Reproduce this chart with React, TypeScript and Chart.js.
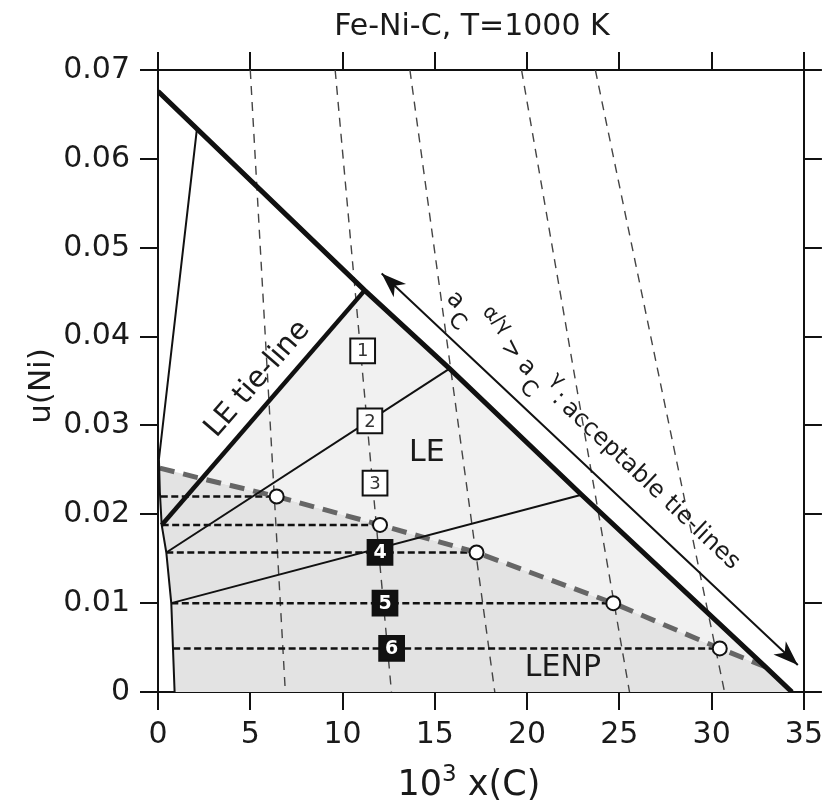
import React, { useEffect, useRef } from 'react';
import { Chart, registerables } from 'chart.js';

Chart.register(...registerables);

const FONT = "'DejaVu Sans', sans-serif";

// ---------- axis ticks ----------
const xTickValues = [0, 5, 10, 15, 20, 25, 30, 35];
const xTickLabels = ['0', '5', '10', '15', '20', '25', '30', '35'];
const yTickValues = [0, 0.01, 0.02, 0.03, 0.04, 0.05, 0.06, 0.07];
const yTickLabels = ['0', '0.01', '0.02', '0.03', '0.04', '0.05', '0.06', '0.07'];

// ---------- thick gamma boundary ----------
const gammaX = [0, 11.2, 15.8, 22.95, 32.9, 34.35];
const gammaY = [0.0676, 0.0452, 0.0364, 0.0222, 0.00285, 0];

// ---------- left (alpha) boundary ----------
const alphaX = [2.1, 0.05, 0.1, 0.2, 0.45, 0.72, 0.9];
const alphaY = [0.0632, 0.0262, 0.0225, 0.0188, 0.0157, 0.01, 0];

// ---------- tie-lines ----------
const leTieX = [0.2, 11.2];
const leTieY = [0.0188, 0.0452];
const tie2X = [0.45, 15.8];
const tie2Y = [0.0157, 0.0364];
const tie3X = [0.72, 22.95];
const tie3Y = [0.01, 0.0222];

// ---------- LE / LENP boundary (grey dashed) ----------
const npX = [0.1, 2.4, 6.43, 12.03, 17.26, 24.67, 30.44, 32.9];
const npY = [0.0252, 0.024, 0.022, 0.0188, 0.0157, 0.01, 0.0049, 0.00285];

// ---------- horizontal dashed tie-lines (end circles) ----------
const hLineY = [0.022, 0.0188, 0.0157, 0.01, 0.0049];
const hLineStartX = [0.15, 0.2, 0.45, 0.72, 0.82];
const hLineEndX = [6.43, 12.03, 17.26, 24.67, 30.44];

// ---------- iso-activity dashed lines ----------
const isoTopX = [5.0, 9.6, 13.65, 19.7, 23.7];
const isoBottomX = [6.9, 12.65, 18.25, 25.55, 30.7];

// ---------- numbered markers ----------
const markerLabels = ['1', '2', '3', '4', '5', '6'];
const markerX = [11.09, 11.48, 11.76, 12.03, 12.3, 12.66];
const markerY = [0.0384, 0.0305, 0.0235, 0.0157, 0.01, 0.0049];
const markerFilled = [false, false, false, true, true, true];

// ---------- double arrow ----------
const arrowX = [12.12, 34.67];
const arrowY = [0.0471, 0.00304];

// ---------- text labels ----------
const regionLabels = ['LE', 'LENP'];
const regionLabelX = [14.57, 21.94];
const regionLabelY = [0.0269, 0.0027];
const tieLabelText = 'LE tie-line';
const tieLabelPos = [5.4, 0.0352];

const arrowText = [
  { t: 'a', along: 72, up: 31, size: 24 },
  { t: 'C', along: 88, up: 16, size: 22 },
  { t: 'α/γ', along: 116, up: 45, size: 20 },
  { t: '>', along: 147, up: 33, size: 24 },
  { t: 'a', along: 170, up: 31, size: 24 },
  { t: 'C', along: 186, up: 16, size: 22 },
  { t: 'γ', along: 201, up: 43, size: 20 },
  { t: ':', along: 214, up: 30, size: 24 },
  { t: 'acceptable tie-lines', along: 341, up: 30, size: 24 },
];

const titleText = 'Fe-Ni-C, T=1000 K';
const yTitleText = 'u(Ni)';

// ---------- helpers ----------
const pts = (xs: number[], ys: number[]) => xs.map((x, i) => ({ x, y: ys[i] }));

const lineDs = (data: any[], opts: any) => ({
  data,
  showLine: true,
  pointRadius: 0,
  pointHoverRadius: 0,
  fill: false,
  tension: 0,
  borderColor: '#111',
  borderWidth: 2,
  ...opts,
});

// region polygons (closed by 'shape' fill; trailing point = rightmost vertex for x-clip span)
const lenpPoly = [
  ...pts(npX, npY),
  { x: gammaX[gammaX.length - 1], y: gammaY[gammaY.length - 1] },
  ...pts(alphaX.slice(2), alphaY.slice(2)).reverse(),
  { x: npX[0], y: npY[0] },
  { x: gammaX[gammaX.length - 1], y: gammaY[gammaY.length - 1] },
];

const lePoly = [
  { x: npX[1], y: npY[1] },
  { x: leTieX[1], y: leTieY[1] },
  ...pts(gammaX, gammaY).filter((p) => p.x > leTieX[1] && p.x <= npX[npX.length - 1]),
  ...pts(npX.slice(1, npX.length - 1), npY.slice(1, npY.length - 1)).reverse(),
  { x: npX[npX.length - 1], y: npY[npY.length - 1] },
];

function buildDatasets() {
  const ds: any[] = [];
  ds.push({
    label: 'markers',
    data: pts(markerX, markerY),
    showLine: false,
    pointStyle: 'rect',
    pointRadius: 17.5,
    pointHoverRadius: 17.5,
    pointBackgroundColor: markerFilled.map((f) => (f ? '#111' : '#fff')),
    pointBorderColor: '#111',
    pointBorderWidth: 2,
    order: 0,
  });
  ds.push({
    label: 'circles',
    data: pts(hLineEndX, hLineY),
    showLine: false,
    pointStyle: 'circle',
    pointRadius: 7,
    pointHoverRadius: 7,
    pointBackgroundColor: '#fff',
    pointBorderColor: '#111',
    pointBorderWidth: 2,
    order: 1,
  });
  ds.push(lineDs(pts(gammaX, gammaY), { label: 'gamma', borderWidth: 5, order: 2 }));
  ds.push(lineDs(pts(leTieX, leTieY), { label: 'LE tie', borderWidth: 4.5, order: 3 }));
  ds.push(lineDs(pts(arrowX, arrowY), { label: 'arrow', borderWidth: 2, order: 3 }));
  ds.push(lineDs(pts(tie2X, tie2Y), { label: 'tie2', order: 4 }));
  ds.push(lineDs(pts(tie3X, tie3Y), { label: 'tie3', order: 4 }));
  ds.push(lineDs(pts(alphaX, alphaY), { label: 'alpha', order: 4 }));
  ds.push(
    lineDs(pts(npX, npY), {
      label: 'np',
      borderColor: '#666',
      borderWidth: 5,
      borderDash: [15, 9],
      order: 5,
    })
  );
  hLineY.forEach((y, i) => {
    ds.push(
      lineDs(
        [
          { x: hLineStartX[i], y },
          { x: hLineEndX[i], y },
        ],
        { label: 'h' + i, borderWidth: 2.5, borderDash: [7, 3.5], order: 6 }
      )
    );
  });
  isoTopX.forEach((xt, i) => {
    ds.push(
      lineDs(
        [
          { x: xt, y: 0.07 },
          { x: isoBottomX[i], y: 0 },
        ],
        { label: 'iso' + i, borderWidth: 1.4, borderColor: '#444', borderDash: [9, 7], order: 7 }
      )
    );
  });
  ds.push(
    lineDs(lePoly, {
      label: 'LE region',
      borderWidth: 0,
      borderColor: 'rgba(0,0,0,0)',
      backgroundColor: '#f1f1f1',
      fill: 'shape',
      order: 8,
    })
  );
  ds.push(
    lineDs(lenpPoly, {
      label: 'LENP region',
      borderWidth: 0,
      borderColor: 'rgba(0,0,0,0)',
      backgroundColor: '#e3e3e3',
      fill: 'shape',
      order: 9,
    })
  );
  return ds;
}

function arrowHead(ctx: CanvasRenderingContext2D, tx: number, ty: number, dx: number, dy: number) {
  // (dx,dy) unit vector pointing toward the tip
  const L = 25;
  const W = 9;
  const N = 7;
  const nx = -dy;
  const ny = dx;
  ctx.beginPath();
  ctx.moveTo(tx, ty);
  ctx.lineTo(tx - dx * L + nx * W, ty - dy * L + ny * W);
  ctx.lineTo(tx - dx * (L - N), ty - dy * (L - N));
  ctx.lineTo(tx - dx * L - nx * W, ty - dy * L - ny * W);
  ctx.closePath();
  ctx.fill();
}

const annotationPlugin = {
  id: 'annotations',
  afterDatasetsDraw(chart: any) {
    const { ctx } = chart;
    const xs = chart.scales.x;
    const ys = chart.scales.y;
    const px = (v: number) => xs.getPixelForValue(v);
    const py = (v: number) => ys.getPixelForValue(v);
    ctx.save();
    ctx.textAlign = 'center';
    ctx.textBaseline = 'middle';

    // numbers in squares
    markerLabels.forEach((lab, i) => {
      ctx.font = markerFilled[i] ? `bold 19px ${FONT}` : `18px ${FONT}`;
      ctx.fillStyle = markerFilled[i] ? '#fff' : '#333';
      ctx.fillText(lab, px(markerX[i]), py(markerY[i]) + 1);
    });

    // region labels
    ctx.font = `30px ${FONT}`;
    ctx.fillStyle = '#1a1a1a';
    regionLabels.forEach((lab, i) => {
      ctx.fillText(lab, px(regionLabelX[i]), py(regionLabelY[i]));
    });

    // LE tie-line label
    {
      const ang = Math.atan2(py(leTieY[1]) - py(leTieY[0]), px(leTieX[1]) - px(leTieX[0]));
      ctx.save();
      ctx.translate(px(tieLabelPos[0]), py(tieLabelPos[1]));
      ctx.rotate(ang);
      ctx.font = `29px ${FONT}`;
      ctx.fillText(tieLabelText, 0, 0);
      ctx.restore();
    }

    // arrow heads and text
    {
      const ax = px(arrowX[0]);
      const ay = py(arrowY[0]);
      const bx = px(arrowX[1]);
      const by = py(arrowY[1]);
      const len = Math.hypot(bx - ax, by - ay);
      const ux = (bx - ax) / len;
      const uy = (by - ay) / len;
      ctx.fillStyle = '#111';
      arrowHead(ctx, ax, ay, -ux, -uy);
      arrowHead(ctx, bx, by, ux, uy);
      const ang = Math.atan2(by - ay, bx - ax);
      ctx.save();
      ctx.translate(ax, ay);
      ctx.rotate(ang);
      ctx.fillStyle = '#1a1a1a';
      arrowText.forEach((p) => {
        ctx.font = `${p.size}px ${FONT}`;
        ctx.fillText(p.t, p.along, -p.up);
      });
      ctx.restore();
    }
    ctx.restore();
  },
  afterDraw(chart: any) {
    const { ctx, chartArea } = chart;
    ctx.save();
    ctx.fillStyle = '#1a1a1a';
    ctx.textBaseline = 'alphabetic';
    // title
    ctx.textAlign = 'center';
    ctx.font = `30px ${FONT}`;
    ctx.fillText(titleText, (chartArea.left + chartArea.right) / 2 - 9, chartArea.top - 35);
    // y title
    ctx.save();
    ctx.translate(chartArea.left - 108, (chartArea.top + chartArea.bottom) / 2 + 5);
    ctx.rotate(-Math.PI / 2);
    ctx.font = `31px ${FONT}`;
    ctx.fillText(yTitleText, 0, 0);
    ctx.restore();
    // x title: 10^3 x(C)
    ctx.textAlign = 'left';
    const big = `35px ${FONT}`;
    const small = `23px ${FONT}`;
    ctx.font = big;
    const w1 = ctx.measureText('10').width;
    const w3 = ctx.measureText(' x(C)').width;
    ctx.font = small;
    const w2 = ctx.measureText('3').width;
    const total = w1 + w2 + w3;
    const cx = (chartArea.left + chartArea.right) / 2 - 12;
    const base = chartArea.bottom + 103;
    let sx = cx - total / 2;
    ctx.font = big;
    ctx.fillText('10', sx, base);
    sx += w1;
    ctx.font = small;
    ctx.fillText('3', sx, base - 14);
    sx += w2;
    ctx.font = big;
    ctx.fillText(' x(C)', sx, base);
    ctx.restore();
  },
};

const gridOpts = {
  display: true,
  drawOnChartArea: false,
  drawTicks: true,
  tickLength: 18,
  tickWidth: 2,
  tickColor: '#111',
  color: '#111',
  lineWidth: 2,
};
const borderOpts = { display: true, color: '#111', width: 2 };

export default function App() {
  const ref = useRef<HTMLCanvasElement>(null);
  useEffect(() => {
    if (!ref.current) return;
    const chart = new Chart(ref.current, {
      type: 'scatter',
      data: { datasets: buildDatasets() },
      options: {
        responsive: false,
        animation: false,
        events: [],
        layout: { padding: 0 },
        plugins: {
          legend: { display: false },
          tooltip: { enabled: false },
          title: { display: false },
        },
        scales: {
          x: {
            type: 'linear',
            position: 'bottom',
            min: 0,
            max: 35,
            afterBuildTicks: (s: any) => {
              s.ticks = xTickValues.map((v) => ({ value: v }));
            },
            afterFit: (s: any) => {
              s.height = 115;
            },
            ticks: {
              font: { family: FONT, size: 30 },
              color: '#1a1a1a',
              padding: 7,
              maxRotation: 0,
              autoSkip: false,
              callback: (_v: any, i: number) => xTickLabels[i],
            },
            grid: gridOpts,
            border: borderOpts,
          },
          x2: {
            type: 'linear',
            position: 'top',
            min: 0,
            max: 35,
            afterBuildTicks: (s: any) => {
              s.ticks = xTickValues.map((v) => ({ value: v }));
            },
            afterFit: (s: any) => {
              s.height = 70;
            },
            ticks: { display: false },
            grid: gridOpts,
            border: borderOpts,
          },
          y: {
            type: 'linear',
            position: 'left',
            min: 0,
            max: 0.07,
            afterBuildTicks: (s: any) => {
              s.ticks = yTickValues.map((v) => ({ value: v }));
            },
            afterFit: (s: any) => {
              s.width = 158;
            },
            ticks: {
              font: { family: FONT, size: 30 },
              color: '#1a1a1a',
              padding: 10,
              autoSkip: false,
              callback: (_v: any, i: number) => yTickLabels[i],
            },
            grid: gridOpts,
            border: borderOpts,
          },
          y2: {
            type: 'linear',
            position: 'right',
            min: 0,
            max: 0.07,
            afterBuildTicks: (s: any) => {
              s.ticks = yTickValues.map((v) => ({ value: v }));
            },
            afterFit: (s: any) => {
              s.width = 26;
            },
            ticks: { display: false },
            grid: gridOpts,
            border: borderOpts,
          },
        },
      } as any,
      plugins: [annotationPlugin],
    });
    return () => chart.destroy();
  }, []);
  return (
    <div style={{ position: 'absolute', left: 0, top: 0, width: 830, height: 807, background: '#fff' }}>
      <canvas ref={ref} width={830} height={807} style={{ display: 'block', width: 830, height: 807 }} />
    </div>
  );
}
